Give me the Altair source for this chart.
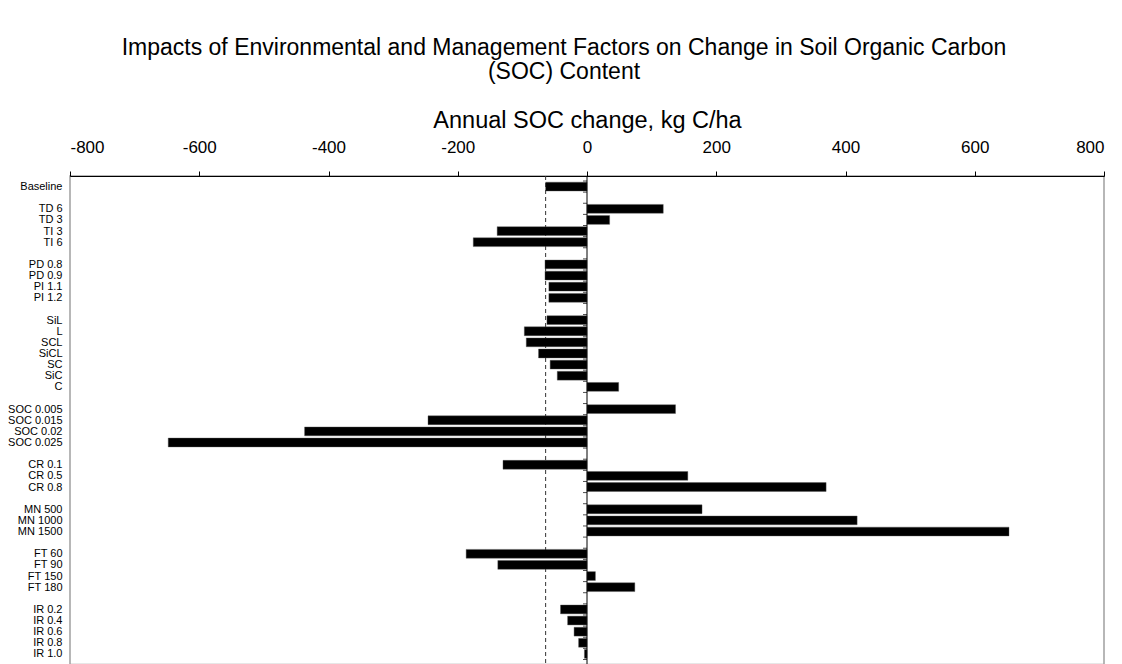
import altair as alt
import pandas as pd

categories = ["Baseline", "",
              "TD 6", "TD 3", "TI 3", "TI 6", "",
              "PD 0.8", "PD 0.9", "PI 1.1", "PI 1.2", "",
              "SiL", "L", "SCL", "SiCL", "SC", "SiC", "C", "",
              "SOC 0.005", "SOC 0.015", "SOC 0.02", "SOC 0.025", "",
              "CR 0.1", "CR 0.5", "CR 0.8", "",
              "MN 500", "MN 1000", "MN 1500", "",
              "FT 60", "FT 90", "FT 150", "FT 180", "",
              "IR 0.2", "IR 0.4", "IR 0.6", "IR 0.8", "IR 1.0"]
values = [-64, None,
          118, 35, -139, -176, None,
          -65, -65, -59, -59, None,
          -62, -97, -94, -75, -57, -46, 49, None,
          137, -246, -437, -648, None,
          -130, 156, 370, None,
          178, 418, 653, None,
          -187, -138, 13, 74, None,
          -41, -30, -20, -13, -4]
x_ticks = [-800, -600, -400, -200, 0, 200, 400, 600, 800]
baseline_value = values[0]

rows = list(range(len(categories)))
df = pd.DataFrame({"row": rows, "label": categories, "value": values})
df["zero"] = 0
bars_df = df.dropna(subset=["value"])
label_rows = [r for r, c in zip(rows, categories) if c]
boundaries = [r - 0.5 for r in rows] + [rows[-1] + 0.5]
label_js = "[" + ",".join("'" + c + "'" for c in categories) + "]"

W = 1034
H = 488.5
n = len(categories)
ydom = [-0.5, n - 0.5]
FONT = "Liberation Sans"

xscale = alt.Scale(domain=[x_ticks[0], x_ticks[-1]], nice=False, zero=False)
yscale = alt.Scale(domain=ydom, reverse=True, nice=False, zero=False)

xaxis = alt.Axis(orient="top", values=x_ticks, labelExpr="'' + datum.value",
                 title="Annual SOC change, kg C/ha", titleFontSize=23.5,
                 titleFont=FONT, titleFontWeight="normal", titleColor="black",
                 titlePadding=6, labelFontSize=17, labelFont=FONT,
                 labelColor="black", labelPadding=15, tickSize=5,
                 tickColor="black", domainColor="black", grid=False)
yaxis = alt.Axis(orient="left", values=label_rows,
                 labelExpr=label_js + "[datum.value]",
                 labelFontSize=11, labelFont=FONT, labelColor="black",
                 labelPadding=8, ticks=False, domain=False, grid=False,
                 title=None, labelOverlap=False)

dash = alt.Chart(pd.DataFrame({"b": [baseline_value]})).mark_rule(
    color="#333333", strokeDash=[4, 3], strokeWidth=1).encode(
    x=alt.X("b:Q", scale=xscale, axis=xaxis))

bars = alt.Chart(bars_df).mark_bar(color="black", height=8.8, orient="horizontal",
                                   stroke="#555555", strokeWidth=0.4).encode(
    x=alt.X("value:Q", scale=xscale, axis=xaxis),
    x2="zero:Q",
    y=alt.Y("row:Q", scale=yscale, axis=yaxis),
)

zero_line = alt.Chart(pd.DataFrame({"z": [0]})).mark_rule(
    color="black", strokeWidth=1).encode(x=alt.X("z:Q", scale=xscale, axis=xaxis))

zero_ticks = alt.Chart(pd.DataFrame({"row": boundaries, "z": [0] * len(boundaries)})).mark_tick(
    orient="horizontal", size=4, thickness=1, color="black", xOffset=-2).encode(
    x=alt.X("z:Q", scale=xscale, axis=xaxis),
    y=alt.Y("row:Q", scale=yscale, axis=yaxis),
)

chart = alt.layer(dash, bars, zero_line, zero_ticks).properties(
    width=W, height=H,
    padding={"left": 62, "top": 168, "right": 10, "bottom": 0},
    autosize=alt.AutoSizeParams(type="none"),
    title=alt.Title(["Impacts of Environmental and Management Factors on Change in Soil Organic Carbon",
                     "(SOC) Content"], fontSize=23, font=FONT, fontWeight="normal",
                    color="black", lineHeight=24.5, anchor="middle", offset=24, dx=-23),
).configure_view(stroke="#a0a0a0", strokeWidth=1.5)

chart.save("out.html", embed_options={"renderer": "svg", "actions": False})
